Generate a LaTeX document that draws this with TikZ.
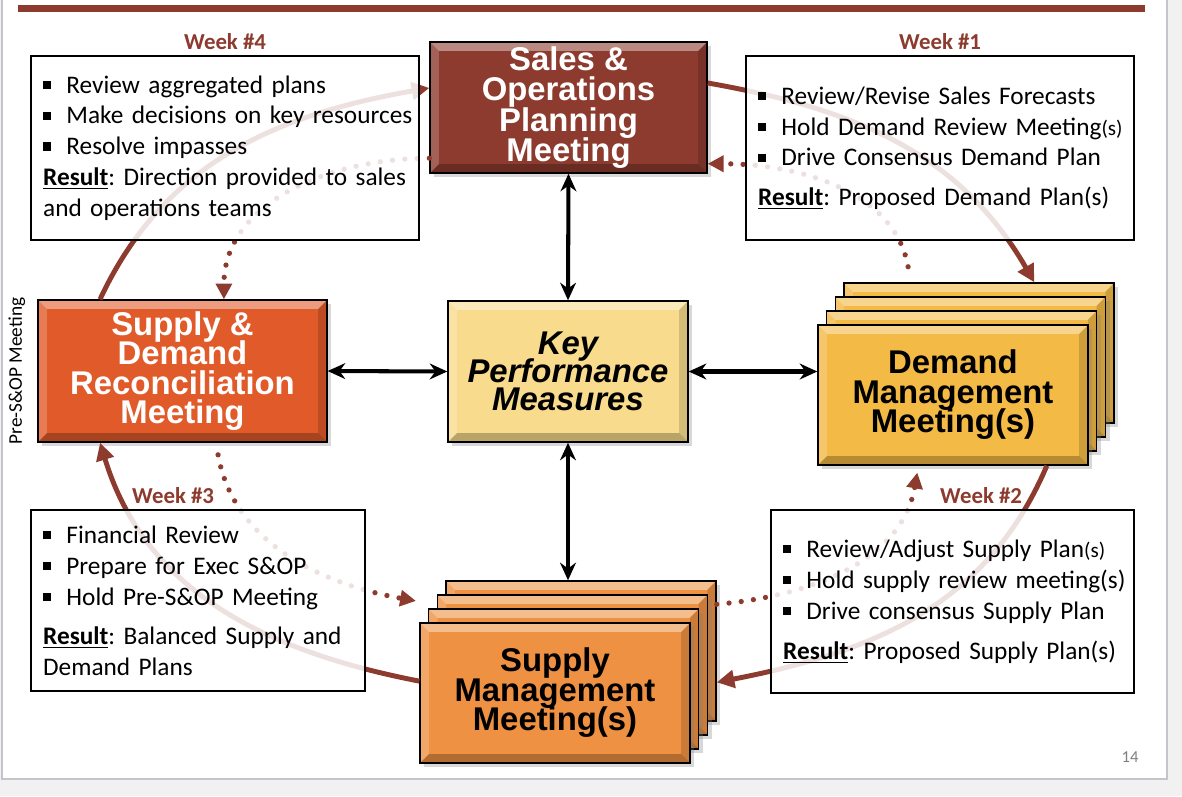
\documentclass[tikz,border=0pt]{standalone}
\usepackage{fontspec}
\setmainfont{Carlito}
\setsansfont{Liberation Sans}
\usetikzlibrary{positioning,arrows.meta,shadows}

\definecolor{sopred}{RGB}{140,59,46}
\definecolor{sdrorange}{RGB}{224,90,42}
\definecolor{kpmyellow}{RGB}{248,219,140}
\definecolor{dmgold}{RGB}{243,186,69}
\definecolor{smorange}{RGB}{238,145,66}
\definecolor{slidegray}{RGB}{241,241,241}
\definecolor{framegray}{RGB}{196,196,204}

\newcommand{\sqbullet}{\rule[0.17em]{0.32em}{0.32em}\hspace{0.6em}}
\newcommand{\bitem}[1]{\mbox{\sqbullet#1}}
\newcommand{\resultlbl}{\textbf{\underline{Result}}}
\newcommand{\smallparen}{\fontsize{12}{14}\selectfont}
\newcommand{\tightlines}{\lineskiplimit=-30pt\lineskip=0pt}

\tikzset{
  bevel/.style={path picture={
    \path (path picture bounding box.north west) coordinate (pNW)
          (path picture bounding box.north east) coordinate (pNE)
          (path picture bounding box.south west) coordinate (pSW)
          (path picture bounding box.south east) coordinate (pSE);
    \fill[white,opacity=0.4] (pNW) -- (pNE) -- ([shift={(-5pt,-5pt)}]pNE) -- ([shift={(5pt,-5pt)}]pNW) -- cycle;
    \fill[white,opacity=0.2] (pNW) -- (pSW) -- ([shift={(5pt,5pt)}]pSW) -- ([shift={(5pt,-5pt)}]pNW) -- cycle;
    \fill[black,opacity=0.25] (pSW) -- (pSE) -- ([shift={(-5pt,5pt)}]pSE) -- ([shift={(5pt,5pt)}]pSW) -- cycle;
    \fill[black,opacity=0.15] (pNE) -- (pSE) -- ([shift={(-5pt,5pt)}]pSE) -- ([shift={(-5pt,-5pt)}]pNE) -- cycle;
  }},
  meeting/.style={draw=black, line width=0.8pt, bevel, inner sep=0pt, align=center,
    drop shadow={shadow xshift=2.5pt, shadow yshift=-2.5pt, opacity=0.3},
    font=\sffamily\bfseries\fontsize{18.7}{16.8}\selectfont\tightlines},
  textbox/.style={draw=black, line width=1.3pt, fill=white, fill opacity=0.85, text opacity=1,
    anchor=north west, align=left, inner xsep=0.24cm, inner ysep=0pt,
    font=\fontsize{14.4}{17.6}\selectfont\frenchspacing},
  weeklbl/.style={text=sopred, inner sep=1pt, font=\bfseries\fontsize{13}{15}\selectfont},
  kpiarrow/.style={{Stealth[length=10pt,width=9pt]}-{Stealth[length=10pt,width=9pt]}, line width=2.3pt},
  cyclearrow/.style={-{Triangle[length=10pt,width=10pt]}, line width=2.8pt, draw=sopred},
  dotarrow/.style={-{Triangle[length=9pt,width=9pt]}, line width=3pt, draw=sopred,
    dash pattern=on 0pt off 7pt, line cap=round},
}

\begin{document}
\begin{tikzpicture}[x=0.02cm, y=-0.02cm]
  \useasboundingbox (0,0) rectangle (1182,796);
  % slide
  \fill[slidegray] (0,0) rectangle (1182,796);
  \filldraw[fill=white, draw=framegray, line width=1pt] (2,-5) rectangle (1167,779);
  \fill[sopred] (18,5) rectangle (1145,12);

  % meetings
  \node[meeting, fill=sopred, text=white, minimum width=5.54cm, minimum height=2.62cm,
    font=\sffamily\bfseries\fontsize{18.7}{17.3}\selectfont\tightlines] (sop) at (568.5,107.5)
    {Sales \&\\Operations\\Planning\\Meeting};
  \node[meeting, fill=sdrorange, text=white, minimum width=5.78cm, minimum height=2.84cm] (sdr) at (182.5,371)
    {Supply \&\\Demand\\Reconciliation\\Meeting};
  \node[meeting, fill=kpmyellow, minimum width=4.8cm, minimum height=2.82cm,
    font=\sffamily\bfseries\itshape\fontsize{18.7}{16}\selectfont\tightlines] (kpm) at (568,371.5)
    {Key\\Performance\\Measures};
  \foreach \k in {3,2,1} {
    \node[meeting, fill=dmgold, minimum width=5.4cm, minimum height=2.8cm] (dm\k) at ([shift={(\k*8.7,-\k*14)}]953,395) {};
    \node[meeting, fill=smorange, minimum width=5.4cm, minimum height=2.8cm] (sm\k) at ([shift={(\k*8.7,-\k*14)}]555,693) {};
  }
  \node[meeting, fill=dmgold, minimum width=5.4cm, minimum height=2.8cm] (dm) at (953,395)
    {Demand\\Management\\Meeting(s)};
  \node[meeting, fill=smorange, minimum width=5.4cm, minimum height=2.8cm] (sm) at (555,693)
    {Supply\\Management\\Meeting(s)};

  % KPI links
  \draw[kpiarrow] (sop.south) -- (kpm.north);
  \draw[kpiarrow] (kpm.west) -- (sdr.east);
  \draw[kpiarrow] (kpm.east) -- (kpm.east -| dm.west);
  \draw[kpiarrow] (kpm.south) -- (kpm.south |- sm3.north);

  % monthly cycle
  \draw[cyclearrow] (sop.10) to[out=-10, in=120] (dm3.52);
  \draw[cyclearrow] (dm.-37) to[out=-113, in=11] (sm3.-13);
  \draw[cyclearrow] (sm.175) to[out=169, in=-73] (sdr.-139);
  \draw[cyclearrow] (sdr.139) to[out=65, in=190] (sop.172);

  % feedback loop
  \draw[dotarrow, shorten <=9pt] (dm3.134) to[out=100, in=0] (sop.-22);
  \draw[dotarrow] (sop.200) to[out=180, in=90] (sdr.60);
  \draw[dotarrow, shorten <=7pt, shorten >=12pt] (sdr.-65) to[out=-80, in=170] (sm2.156);
  \draw[dotarrow, shorten >=4pt] (sm3.19) to[out=5, in=-100] (dm.-116);

  % weekly tasks
  \node[textbox, text width=7.28cm, minimum height=3.68cm] (box4) at (30,55) {%
    \bitem{Review aggregated plans}\\
    \bitem{Make decisions on key resources}\\
    \bitem{Resolve impasses}\\
    \mbox{\resultlbl: Direction provided to sales}\\
    \mbox{and operations teams}};
  \node[textbox, text width=7.28cm, minimum height=3.68cm] (box1) at (745,55) {%
    \bitem{Review/Revise Sales Forecasts}\\
    \bitem{Hold Demand Review Meeting{\smallparen(s)}}\\
    \bitem{Drive Consensus Demand Plan}\\[5pt]
    \mbox{\resultlbl: Proposed Demand Plan(s)}};
  \node[textbox, text width=6.2cm, minimum height=3.62cm] (box3) at (30,509) {%
    \bitem{Financial Review}\\
    \bitem{Prepare for Exec S\&OP}\\
    \bitem{Hold Pre-S\&OP Meeting}\\[4.5pt]
    \mbox{\resultlbl: Balanced Supply and}\\
    \mbox{Demand Plans}};
  \node[textbox, text width=6.78cm, minimum height=3.66cm] (box2) at (770,509) {%
    \bitem{Review/Adjust Supply Plan{\smallparen(s)}}\\
    \bitem{Hold supply review meeting(s)}\\
    \bitem{Drive consensus Supply Plan}\\[5.5pt]
    \mbox{\resultlbl: Proposed Supply Plan(s)}};

  % labels
  \node[weeklbl, above=2pt of box4] (wk4) {Week \#4};
  \node[weeklbl, above=2pt of box1] (wk1) {Week \#1};
  \node[weeklbl, above=2pt of box3, xshift=-0.5cm] (wk3) {Week \#3};
  \node[weeklbl, above=2pt of box2, xshift=0.57cm] (wk2) {Week \#2};
  \node[rotate=90, anchor=south, inner sep=1pt, font=\fontsize{11}{13}\selectfont] (presop) at ([xshift=-0.2cm]sdr.west) {Pre-S\&OP Meeting};
  \node[text=gray, font=\fontsize{9.5}{11}\selectfont] (pgnum) at (1130,757) {14};
\end{tikzpicture}
\end{document}
